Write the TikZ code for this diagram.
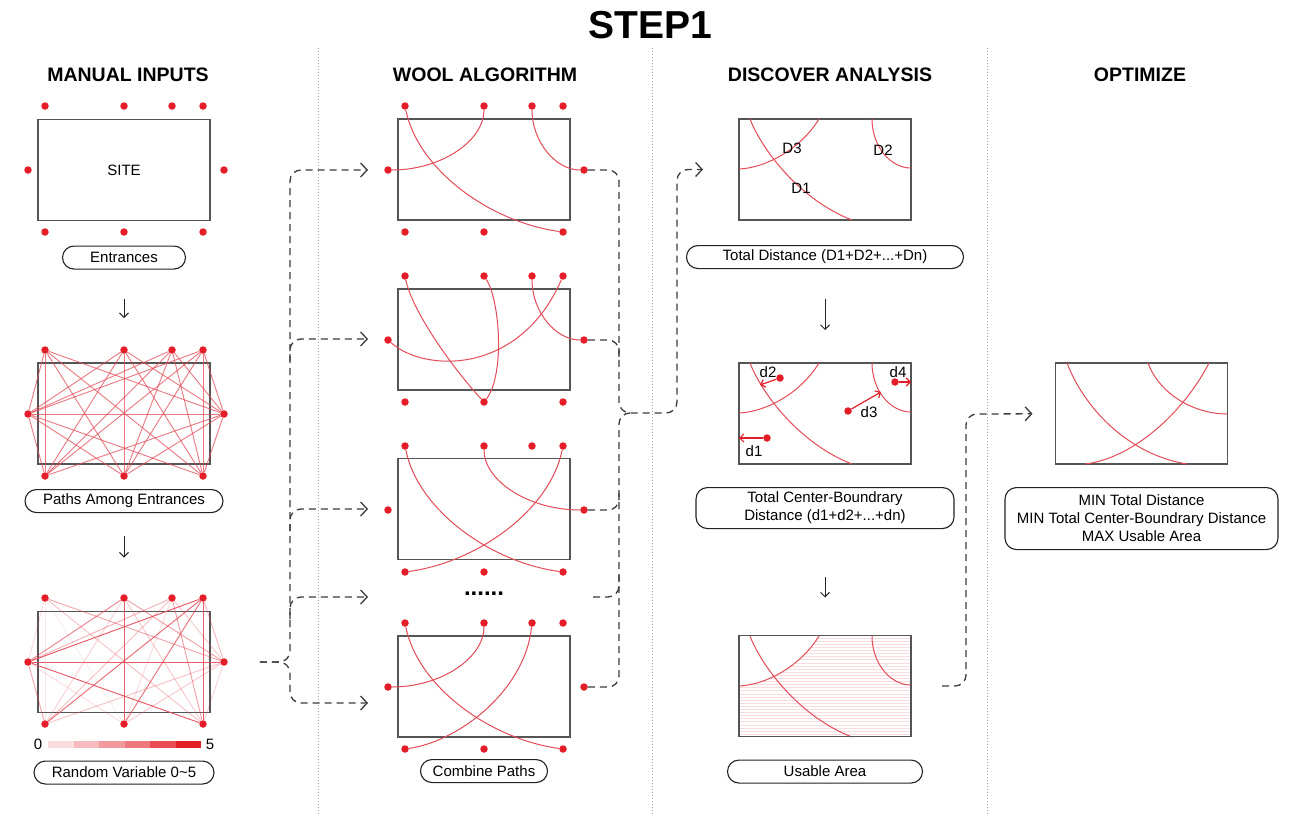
\documentclass[tikz,border=0pt]{standalone}
\usepackage{fontspec}
\setmainfont{Liberation Sans}
\usetikzlibrary{arrows.meta,positioning,calc}
\definecolor{woolRed}{RGB}{228, 30, 40}
\definecolor{woolLine}{RGB}{228, 75, 88}
\definecolor{woolHatch}{RGB}{248, 220, 223}
\definecolor{woolGray}{RGB}{85, 85, 85}
\definecolor{woolInk}{RGB}{35, 35, 35}
\definecolor{woolDash}{RGB}{60, 60, 60}
\definecolor{woolRule}{RGB}{165, 165, 165}

% nine entrance dots round a site box: prefix, left x, top y
\newcommand{\entrances}[3]{%
  \foreach \spot/\dx/\dy in {t1/7/-13,t2/86/-13,t3/134/-13,t4/165/-13,
      l/-10/51,r/186/51,b1/7/113,b2/86/113,b3/165/113}
    \node[entrance] (#1\spot) at (#2+\dx,#3+\dy) {};
}
% distance arcs of the analysis boxes (top edge at y=119)
\newcommand{\distarcs}{%
  \draw[wool] (739,169) .. controls (765,168) and (800,150) .. (819,119);
  \draw[wool] (750,119) .. controls (762,150) and (800,200) .. (852,220);
  \draw[wool] (872,119) .. controls (872,146) and (890,168) .. (911,168);
}

\begin{document}
\begin{tikzpicture}[
  x=1pt,y=-1pt,
  site/.style={
    draw=woolGray,
    line width=1.4pt,
    minimum width=172pt,
    minimum height=101pt,
    inner sep=0pt,
    outer sep=0pt,
    font=\fontsize{15}{18}\selectfont
  },
  entrance/.style={circle,fill=woolRed,inner sep=0pt,minimum size=7.5pt},
  wool/.style={woolLine,line width=1pt},
  link/.style={woolLine,line width=0.9pt},
  tag/.style={
    draw=woolInk,
    line width=1.1pt,
    rounded corners=11.5pt,
    minimum height=23pt,
    align=center,
    font=\fontsize{15}{18}\selectfont
  },
  header/.style={font=\bfseries\fontsize{19.5}{22}\selectfont},
  txt/.style={font=\fontsize{15}{18}\selectfont,inner sep=1pt},
  nextarrow/.style={-{Straight Barb[length=4.5pt,width=9pt]},line width=1pt,woolInk},
  flow/.style={woolDash,line width=1.3pt,dash pattern=on 7pt off 5pt,rounded corners=11pt},
  flowtip/.style={-{Straight Barb[length=6.5pt,width=14pt]}},
  pusharrow/.style={woolRed,line width=1.2pt,-{Straight Barb[length=4pt,width=8pt]}},
  colrule/.style={woolRule,line width=0.8pt,dash pattern=on 1.2pt off 1.8pt},
  hatchline/.style={draw=woolHatch,line width=0.6pt}
]
  \fill[white] (0,0) rectangle (1296,816);
  \useasboundingbox (0,0) rectangle (1296,816);

  % column rules
  \draw[colrule] (318,48) -- (318,816);
  \draw[colrule] (652,48) -- (652,816);
  \draw[colrule] (987,48) -- (987,816);

  \node[font=\bfseries\fontsize{39}{44}\selectfont] (title) at (650,25) {STEP1};
  \node[header] (hInputs) at (128,75) {MANUAL INPUTS};
  \node[header] (hWool) at (485,75) {WOOL ALGORITHM};
  \node[header] (hDiscover) at (830,75) {DISCOVER ANALYSIS};
  \node[header] (hOptimize) at (1140,75) {OPTIMIZE};

  % manual inputs
  \node[site] (a1) at (124,170) {SITE};
  \entrances{a1}{38}{119}
  \node[tag,minimum width=123pt,below=25pt of a1] (entr) {Entrances};

  \node[site] (a2) at (124,413.5) {};
  \entrances{a2}{38}{363}
  \foreach \ea in {t1,t2,t3,t4}
    \foreach \eb in {b1,b2,b3,l,r}
      \draw[link,draw opacity=.75] (a2\ea) -- (a2\eb);
  \foreach \ea in {b1,b2,b3}
    \foreach \eb in {l,r}
      \draw[link,draw opacity=.75] (a2\ea) -- (a2\eb);
  \draw[link,draw opacity=.75] (a2l) -- (a2r);
  \node[tag,minimum width=198pt,below=25pt of a2] (paths) {Paths Among Entrances};

  \node[site] (a3) at (124,662) {};
  \entrances{a3}{38}{611}
  \foreach \ea/\eb/\op in {t1/b1/.15,t1/b2/.1,t1/b3/.35,t1/l/.2,t1/r/.5,
      t2/b1/.25,t2/b2/.9,t2/b3/.3,t2/l/.7,t2/r/.55,
      t3/b1/.35,t3/b2/.2,t3/b3/.55,t3/l/.45,t3/r/.3,
      t4/b1/.85,t4/b2/.8,t4/b3/.9,t4/l/.95,t4/r/.4,
      b1/l/.5,b1/r/.35,b2/l/.2,b2/r/.3,b3/l/.95,b3/r/.25,l/r/.9}
    \draw[link,draw opacity=\op] (a3\ea) -- (a3\eb);
  \foreach \i/\op in {0/.15,1/.3,2/.45,3/.6,4/.8,5/1}
    \fill[woolRed,opacity=\op] (48+25.5*\i,741) rectangle ++(25.5,7);
  \node[txt] (g0) at (38,744) {0};
  \node[txt] (g5) at (210,744) {5};
  \node[tag,minimum width=180pt,below=48pt of a3] (rand) {Random Variable 0\textasciitilde5};

  \draw[nextarrow,shorten <=29pt,shorten >=45pt] (entr) -- (a2);
  \draw[nextarrow,shorten <=23pt,shorten >=54pt] (paths) -- (a3);

  % wool algorithm
  \node[site] (w1) at (484,169.5) {};
  \entrances{w1}{398}{119}
  \draw[wool] (w1t1) .. controls +(13,64) and +(-73,-10) .. (w1b3);
  \draw[wool] (w1l) .. controls +(53,0) and +(0,35) .. (w1t2);
  \draw[wool] (w1t3) .. controls +(0,35) and +(-29,0) .. (w1r);

  \node[site] (w2) at (484,339.5) {};
  \entrances{w2}{398}{289}
  \draw[wool] (w2t1) .. controls +(7,34) and +(-34,-37) .. (w2b2);
  \draw[wool] (w2t2) .. controls +(16,24) and +(21,-27) .. (w2b2);
  \draw[wool] (w2l) .. controls +(37,33) and +(-43,99) .. (w2t4);
  \draw[wool] (w2t3) .. controls +(0,35) and +(-29,0) .. (w2r);

  \node[site] (w3) at (484,509) {};
  \entrances{w3}{398}{459}
  \draw[wool] (w3t1) .. controls +(13,64) and +(-73,-10) .. (w3b3);
  \draw[wool] (w3t4) .. controls +(-13,64) and +(73,-10) .. (w3b1);
  \draw[wool] (w3t2) .. controls +(0,35) and +(-55,0) .. (w3r);

  \node[font=\bfseries\fontsize{24}{26}\selectfont,inner sep=1pt] (more) at (484,594) {......};

  \node[site] (w4) at (484,686.5) {};
  \entrances{w4}{398}{636}
  \draw[wool] (w4t1) .. controls +(13,64) and +(-73,-10) .. (w4b3);
  \draw[wool] (w4l) .. controls +(53,0) and +(0,35) .. (w4t2);
  \draw[wool] (w4t3) .. controls +(-7,67) and +(55,-8) .. (w4b1);
  \node[tag,minimum width=127pt,below=22pt of w4] (comb) {Combine Paths};

  % discover analysis
  \node[site] (dist) at (825,169.5) {};
  \distarcs
  \node[txt] (D3) at (792,148) {D3};
  \node[txt] (D2) at (883,150) {D2};
  \node[txt] (D1) at (801,188) {D1};
  \node[tag,minimum width=277pt,below=25pt of dist] (tdist) {Total Distance (D1+D2+...+Dn)};

  \node[site] (cb) at (825,413.5) {};
  \begin{scope}[shift={(0,244)}]
    \distarcs
  \end{scope}
  \node[entrance] (p2) at (780,378) {};
  \coordinate (p2end) at (760,385);
  \draw[pusharrow] (p2) -- (p2end);
  \node[txt] (d2) at (768,372) {d2};
  \node[entrance] (p4) at (895,382) {};
  \coordinate (p4end) at (911,382);
  \draw[pusharrow] (p4) -- (p4end);
  \node[txt] (d4) at (898,372) {d4};
  \node[entrance] (p3) at (848,411) {};
  \coordinate (p3end) at (881,392);
  \draw[pusharrow] (p3) -- (p3end);
  \node[txt] (d3) at (869,412) {d3};
  \node[entrance] (p1) at (767,438) {};
  \coordinate (p1end) at (739,438);
  \draw[pusharrow] (p1) -- (p1end);
  \node[txt] (d1) at (754,451) {d1};
  \node[tag,minimum width=258pt,minimum height=41pt,below=23pt of cb] (tcb)
    {Total Center-Boundrary\\Distance (d1+d2+...+dn)};

  \begin{scope}[shift={(0,517)}]
    \foreach \k in {0,...,31}
      \draw[hatchline] (740,121+3.1*\k) -- (910,121+3.1*\k);
    \fill[white] (739,169) .. controls (765,168) and (800,150) .. (819,119)
      -- (739,119) -- cycle;
    \distarcs
  \end{scope}
  \node[site] (area) at (825,686) {};
  \node[tag,minimum width=195pt,below=23pt of area] (usable) {Usable Area};

  \draw[nextarrow,shorten <=30pt,shorten >=33pt] (tdist) -- (cb);
  \draw[nextarrow,shorten <=48pt,shorten >=38pt] (tcb) -- (area);

  % optimize
  \node[site] (opt) at (1141.5,413.5) {};
  \draw[wool] (1067,363) .. controls (1085,410) and (1130,455) .. (1187,464);
  \draw[wool] (1085,464) .. controls (1135,458) and (1185,410) .. (1209,363);
  \draw[wool] (1148,363) .. controls (1160,395) and (1195,414) .. (1227,414);
  \node[tag,minimum width=273pt,minimum height=62pt,below=23pt of opt] (goal)
    {MIN Total Distance\\MIN Total Center-Boundrary Distance\\MAX Usable Area};

  % dashed flow: inputs -> wool
  \coordinate (fork) at (290,662);
  \coordinate (in1) at (368,170);
  \coordinate (in2) at (368,339);
  \coordinate (in3) at (368,509);
  \coordinate (in4) at (368,597);
  \coordinate (in5) at (368,703);
  \draw[flow,flowtip,shorten <=32pt] (a3r) -- (fork) |- (in1);
  \draw[flow,flowtip,shorten <=32pt] (a3r) -- (fork) |- (in5);
  \draw[flow,flowtip] ($(in2 -| fork)+(0,22)$) |- (in2);
  \draw[flow,flowtip] ($(in3 -| fork)+(0,22)$) |- (in3);
  \draw[flow,flowtip] ($(in4 -| fork)+(0,22)$) |- (in4);

  % dashed flow: wool -> discover
  \coordinate (join) at (619,413);
  \coordinate (turn) at (677,413);
  \coordinate (mout) at (593,597);
  \draw[flow,flowtip,shorten >=36pt] (w1r) -| (join) -- (turn) |- (dist);
  \draw[flow] (w2r) -| ($(w2r -| join)+(0,22)$);
  \draw[flow] (w3r) -| ($(w3r -| join)+(0,-22)$);
  \draw[flow] (mout) -| ($(mout -| join)+(0,-22)$);
  \draw[flow] (w4r) -| (join) -- +(11,0);

  % dashed flow: discover -> optimize
  \coordinate (bend) at (966,414);
  \draw[flow,flowtip,shorten <=31pt,shorten >=23pt] (area) -| (bend) -- (opt);
\end{tikzpicture}
\end{document}
